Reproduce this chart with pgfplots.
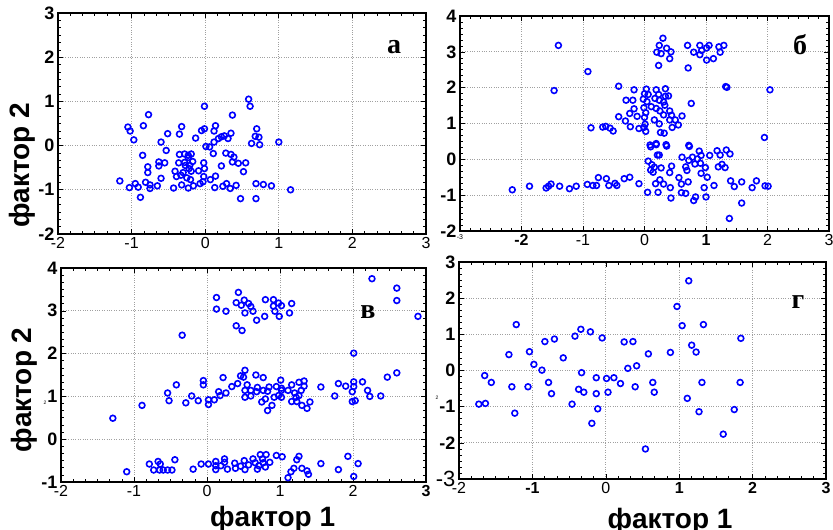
\documentclass[border=0pt]{standalone}
\usepackage{fontspec}
\setmainfont{Liberation Sans}
\newfontfamily\tnr{Liberation Serif}
\usepackage{pgfplots}
\pgfplotsset{compat=1.18}
\definecolor{pblue}{RGB}{0,0,255}
\definecolor{gridg}{RGB}{160,160,160}

\pgfplotsset{
  panel/.style={
    scale only axis, anchor=south west,
    axis line style={line width=1.8pt},
    tick align=inside,
    minor tick num=5,
    major tick length=5pt, minor tick length=3pt,
    every tick/.style={black, line width=0.6pt},
    grid=major, major grid style={gridg, dotted, line width=0.9pt},
    xticklabel style={font=\fontsize{16}{16}\selectfont},
    yticklabel style={font=\bfseries\fontsize{18}{18}\selectfont},
    label style={font=\bfseries\fontsize{28}{28}\selectfont},
  },
  pts/.style={only marks, mark=o, mark size=2.9pt, color=pblue, line width=1.6pt},
}
\tikzset{tag/.style={font=\tnr\bfseries\fontsize{28}{28}\selectfont}}

\begin{document}
\begin{tikzpicture}
\useasboundingbox (0,0) rectangle (833pt,530pt);

% panel a
\begin{axis}[panel, at={(58pt,296pt)}, width=368pt, height=221pt,
  xmin=-2, xmax=3, ymin=-2, ymax=3,
  xtick={-2,...,3}, xticklabels={-2,-1,0,1,2,3},
  ytick={-2,...,3}, yticklabels={-2,-1,0,1,2,3},
  ylabel={фактор 2}, ylabel style={at={(axis description cs:-0.098,0.31)}, anchor=center}]
\addplot[pts] coordinates {
(0.59,1.05) (0.61,0.89) (-0.01,0.89) (-0.77,0.70) (0.37,0.69) (-1.05,0.42)
(-1.02,0.33) (-0.84,0.45) (-0.32,0.43) (-0.35,0.26) (-0.51,0.27) (-0.97,0.13)
(-0.60,0.08) (-0.13,0.17) (-0.05,0.34) (-0.01,0.38) (0.14,0.45) (0.12,0.33)
(0.22,0.20) (0.26,0.22) (0.31,0.16) (0.35,0.28) (0.18,0.16) (0.70,0.38)
(0.68,0.21) (0.73,0.19) (0.63,0.05) (0.74,0.02) (1.00,0.08) (0.12,0.08)
(0.06,-0.03) (0.01,-0.02) (-0.53,-0.11) (-0.85,-0.22) (0.11,-0.18) (0.28,-0.17)
(0.35,-0.20) (0.39,-0.26) (-0.35,-0.20) (-0.28,-0.19) (-0.23,-0.22) (-0.19,-0.19)
(-0.36,-0.39) (-0.28,-0.38) (-0.17,-0.36) (-0.23,-0.27) (-0.63,-0.37) (-0.55,-0.39)
(-0.78,-0.48) (-0.78,-0.61) (-0.63,-0.46) (-0.02,-0.39) (-0.01,-0.52) (-0.09,-0.57)
(0.22,-0.46) (0.37,-0.37) (0.45,-0.40) (0.55,-0.39) (0.52,-0.59) (-0.41,-0.58)
(-0.30,-0.61) (-0.22,-0.52) (-0.19,-0.58) (-0.39,-0.70) (-0.33,-0.67) (-0.25,-0.73)
(-0.20,-0.77) (-0.60,-0.74) (-0.02,-0.70) (0.07,-0.77) (0.14,-0.69) (-0.03,-0.82)
(-0.07,-0.86) (-0.16,-0.91) (-0.23,-0.96) (-0.32,-0.89) (-0.43,-0.96) (-1.16,-0.80)
(-0.95,-0.86) (-1.03,-0.95) (-0.91,-0.94) (-0.81,-0.83) (-0.75,-0.89) (-0.75,-0.97)
(-0.65,-0.91) (-0.88,-1.17) (0.13,-0.95) (0.24,-0.92) (0.29,-0.86) (0.34,-0.97)
(0.42,-0.90) (0.69,-0.86) (0.79,-0.88) (0.90,-0.91) (1.16,-1.00) (0.48,-1.20)
(0.69,-1.20) (-0.27,-0.45) (-0.21,-0.45)
};
\end{axis}

% panel b
\begin{axis}[panel, at={(460pt,299pt)}, width=369pt, height=215pt,
  xmin=-3, xmax=3, ymin=-2, ymax=4,
  xtick={-3,...,3}, xticklabels={{\scriptsize -3},\textbf{-2},-1,0,\textbf{1},2,3},
  ytick={-2,...,4}, yticklabels={-2,-1,0,1,2,3,4}]
\addplot[pts] coordinates {
(-1.40,3.18) (-0.92,2.45) (-1.47,1.92) (0.30,3.38) (0.24,3.18) (0.20,2.99)
(0.27,2.95) (0.36,3.10) (0.43,3.00) (0.41,2.81) (0.23,2.62) (0.70,3.18)
(0.80,2.99) (0.90,3.18) (0.93,3.04) (0.90,2.92) (1.01,3.11) (1.05,3.18)
(1.01,2.77) (1.12,2.81) (1.21,3.14) (1.29,3.18) (1.23,2.99) (0.71,2.55)
(1.34,2.01) (2.04,1.94) (1.95,0.61)
(-0.42,2.04) (-0.17,1.94) (0.03,1.96) (0.19,1.94) (0.34,1.97) (0.00,1.83)
(0.06,1.81) (0.23,1.81) (0.34,1.76) (0.39,1.77) (-0.30,1.65) (-0.19,1.65)
(-0.02,1.68) (0.04,1.61) (0.17,1.70) (0.24,1.65) (0.31,1.60) (0.11,1.47)
(0.19,1.42) (-0.01,1.44) (0.33,1.51) (0.76,1.56) (-0.17,1.41) (-0.24,1.28)
(-0.12,1.20) (0.02,1.30) (0.00,1.17) (0.25,1.35) (0.41,1.35) (0.44,1.23)
(0.31,1.24) (0.16,1.10) (0.24,0.99) (0.41,1.10) (0.50,1.10) (0.61,1.21)
(0.55,0.96) (0.45,0.89) (0.01,0.98) (-0.01,0.89) (0.02,0.78) (-0.09,0.86)
(-0.23,0.91) (-0.42,1.19) (-0.31,1.07) (-0.87,0.88) (-0.68,0.90) (-0.63,0.92)
(-0.56,0.87) (-0.51,0.79) (0.26,0.75) (0.32,0.73) (1.32,2.03) (0.09,0.40)
(0.19,0.44) (0.35,0.41) (0.72,0.39)
(-2.15,-0.85) (-1.87,-0.75) (-1.60,-0.80) (-1.56,-0.75) (-1.52,-0.69) (-1.38,-0.75)
(-1.22,-0.82) (-1.11,-0.75) (-0.93,-0.70) (-0.84,-0.73) (-0.78,-0.73) (-0.75,-0.51)
(-0.62,-0.54) (-0.58,-0.73) (-0.48,-0.67) (-0.45,-0.73) (-0.33,-0.54) (-0.24,-0.50)
(-0.09,-0.68) (0.05,-0.92) (0.18,-0.68) (0.22,-0.92) (0.06,-0.05) (0.12,-0.15)
(0.16,-0.22) (0.10,-0.30) (0.14,-0.36) (0.27,-0.24) (0.25,-0.57) (0.31,-0.69)
(0.42,-0.79) (0.43,-1.08) (0.41,-0.37) (0.44,-0.19) (0.56,-0.51) (0.60,-0.69)
(0.71,-0.63) (0.60,-0.93) (0.67,-0.95) (0.61,0.06) (0.67,-0.21) (0.69,-0.31)
(0.72,-0.03) (0.78,0.06) (0.82,-0.13) (0.86,0.01) (0.91,-0.11) (0.92,0.11)
(0.92,-0.39) (0.99,-0.23) (1.02,-0.50) (0.97,-0.79) (0.83,-1.05) (0.80,-1.15)
(1.00,-1.05) (0.73,0.36) (0.89,0.23) (1.06,0.11) (1.18,0.24) (1.23,0.12)
(1.33,0.26) (1.39,0.15) (1.20,-0.21) (1.26,-0.14) (1.31,-0.23) (1.13,-0.73)
(1.40,-0.60) (1.46,-0.76) (1.58,-0.63) (1.58,-1.22) (1.38,-1.65) (1.75,-0.79)
(1.82,-0.60) (1.96,-0.74) (2.01,-0.75) (0.10,0.35) (0.19,0.41) (0.36,0.37)
(0.21,0.12) (0.24,0.12)
};
\end{axis}

% panel v
\begin{axis}[panel, at={(61pt,48pt)}, width=365pt, height=214pt,
  xmin=-2, xmax=3, ymin=-1, ymax=4,
  xtick={-2,...,3}, xticklabels={-2,-1,0,1,2,\textbf{3}},
  ytick={-1,...,4}, yticklabels={-1,0,1,2,3,4},
  ylabel={фактор 2}, ylabel style={at={(axis description cs:-0.10,0.43)}, anchor=center},
  xlabel={фактор 1}, xlabel style={at={(axis description cs:0.58,-0.095)}, anchor=north}]
\addplot[pts] coordinates {
(2.26,3.75) (2.60,3.53) (2.60,3.24) (2.89,2.87) (-0.34,2.43) (0.13,3.31)
(0.13,3.04) (0.26,2.99) (0.43,3.43) (0.40,3.19) (0.51,3.25) (0.47,3.13)
(0.57,3.17) (0.60,3.10) (0.63,2.99) (0.52,2.95) (0.68,2.78) (0.79,2.87)
(0.80,3.26) (0.91,3.26) (0.91,3.11) (0.98,3.18) (1.02,3.12) (0.93,2.99)
(0.99,2.87) (1.13,2.95) (1.16,3.17) (0.40,2.65) (0.48,2.54)
(2.01,2.01) (-1.29,0.49) (-0.89,0.79) (-0.54,1.08) (-0.52,0.90) (-0.42,1.27)
(-0.29,0.85) (-0.21,1.01) (-0.12,0.90) (-0.05,1.37) (-0.05,1.27) (0.02,0.92)
(0.02,0.81) (0.10,0.92) (0.16,1.11) (0.18,1.02) (0.26,1.08) (0.22,1.44)
(0.34,1.23) (0.42,1.30) (0.46,1.48) (0.50,1.45) (0.52,1.61) (0.55,1.27)
(0.52,1.14) (0.52,0.98) (0.60,1.14) (0.60,1.01) (0.67,1.50) (0.69,1.21)
(0.68,1.11) (0.77,1.44) (0.77,1.14) (0.83,1.12) (0.85,1.22) (0.75,0.87)
(0.80,0.94) (0.89,0.79) (0.83,0.67) (0.92,0.98) (0.95,1.23) (1.01,1.38)
(1.02,1.19) (1.02,1.14) (1.02,0.98) (0.98,1.02) (1.11,1.14) (1.16,1.27)
(1.20,1.08) (1.22,0.98) (1.16,0.88) (1.23,0.88) (1.26,1.33) (1.26,1.02)
(1.29,1.14) (1.33,1.24) (1.33,1.36) (1.30,0.79) (1.37,0.72) (1.41,0.87)
(1.56,1.22) (1.75,1.01) (1.80,1.30) (1.90,1.24) (2.01,1.34) (2.01,1.23)
(1.99,1.11) (1.99,0.88) (2.03,0.90) (2.13,1.34) (2.20,1.14) (2.23,1.00)
(2.38,1.01) (2.47,1.45) (2.60,1.55)
(-1.10,-0.76) (-0.79,-0.58) (-0.67,-0.52) (-0.64,-0.58) (-0.73,-0.72) (-0.65,-0.72)
(-0.60,-0.72) (-0.54,-0.72) (-0.48,-0.72) (-0.44,-0.48) (-0.19,-0.70) (-0.08,-0.58)
(0.02,-0.58) (0.12,-0.52) (0.12,-0.62) (0.12,-0.71) (0.19,-0.62) (0.24,-0.46)
(0.24,-0.54) (0.28,-0.70) (0.38,-0.56) (0.39,-0.68) (0.46,-0.63) (0.51,-0.50)
(0.52,-0.71) (0.57,-0.60) (0.63,-0.46) (0.66,-0.55) (0.69,-0.70) (0.71,-0.62)
(0.73,-0.36) (0.76,-0.46) (0.77,-0.55) (0.81,-0.36) (0.80,-0.65) (0.86,-0.54)
(0.95,-0.38) (1.03,-0.41) (1.11,-0.90) (1.15,-0.76) (1.19,-0.68) (1.23,-0.48)
(1.26,-0.40) (1.30,-0.68) (1.37,-0.74) (1.39,-0.82) (1.56,-0.57) (1.80,-0.71)
(1.93,-0.40) (2.01,-0.87) (2.07,-0.57)
};
\end{axis}

% panel g
\begin{axis}[panel, at={(459pt,51pt)}, width=367pt, height=217pt,
  xmin=-2, xmax=3, ymin=-3, ymax=3,
  xtick={-2,...,3}, xticklabels={-2,\textbf{-1},0,\textbf{1},\textbf{2},\textbf{3}},
  ytick={-3,...,3}, yticklabels={{\fontsize{22}{22}\selectfont\mdseries -3},-2,-1,0,1,2,3},
  xlabel={фактор 1}, xlabel style={at={(axis description cs:0.575,-0.12)}, anchor=north}]
\addplot[pts] coordinates {
(-1.73,-0.93) (-1.64,-0.91) (-1.65,-0.14) (-1.56,-0.33) (-1.32,0.44) (-1.28,-0.45)
(-1.22,1.27) (-1.24,-1.18) (-1.06,-0.45) (-1.04,0.52) (-0.98,0.17) (-0.87,0.01)
(-0.83,0.80) (-0.70,0.87) (-0.78,-0.33) (-0.74,-0.64) (-0.58,0.35) (-0.46,-0.93)
(-0.42,0.95) (-0.34,1.14) (-0.33,-0.06) (-0.37,-0.52) (-0.30,-0.60) (-0.21,1.07)
(-0.19,-1.46) (-0.13,-0.20) (-0.13,-0.64) (-0.11,-1.06) (-0.05,0.90) (0.01,-0.22)
(0.03,-0.60) (0.11,-0.20) (0.20,-0.36) (0.25,0.79) (0.37,0.80) (0.30,0.06)
(0.42,0.13) (0.40,-0.45) (0.54,-2.17) (0.58,0.46) (0.64,-0.33) (0.66,-0.60)
(0.88,0.50) (0.97,1.77) (1.04,1.24) (1.13,2.48) (1.17,0.70) (1.23,0.51)
(1.11,-0.77) (1.31,-0.33) (1.33,1.27) (1.27,-1.14) (1.60,-1.76) (1.75,-1.08)
(1.83,-0.33) (1.84,0.89)
};
\end{axis}

\node[tag] at (394pt,483pt) {а};
\node[tag] at (800pt,485pt) {б};
\node[tag] at (368pt,218pt) {в};
\node[tag] at (798pt,228pt) {г};
\node[font=\tiny] at (45pt,127pt) {2};
\node[font=\tiny] at (437pt,132pt) {2};
\end{tikzpicture}
\end{document}
